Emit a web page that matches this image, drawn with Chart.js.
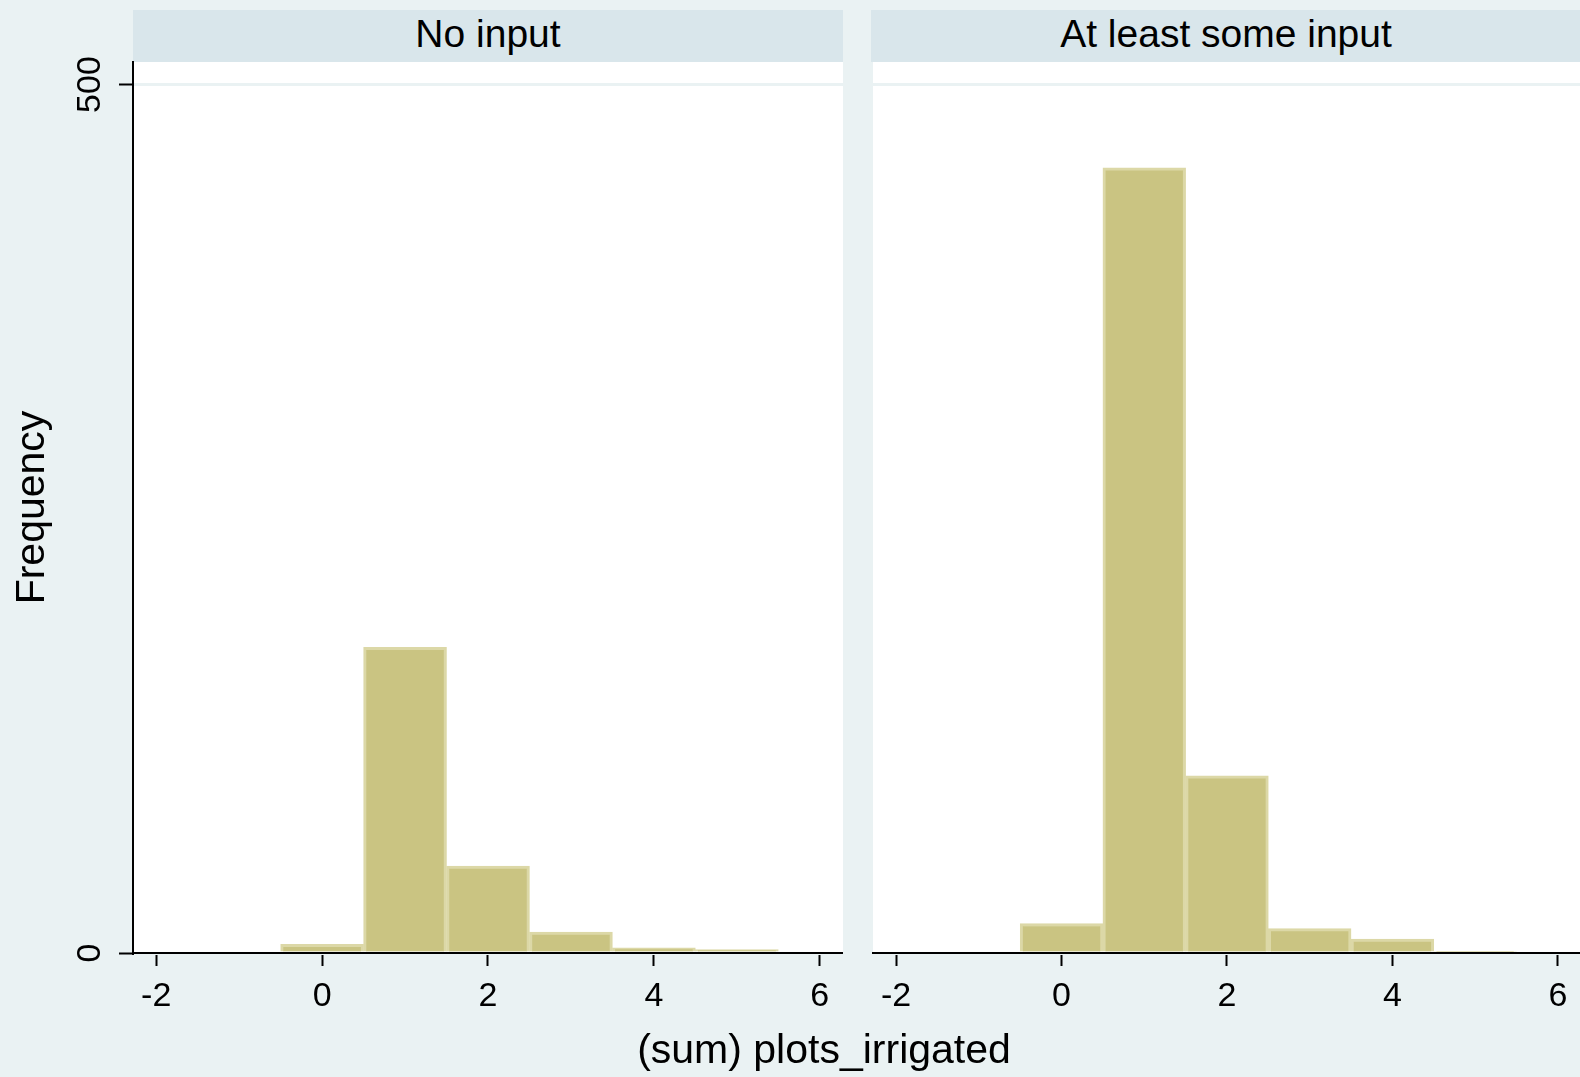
<!DOCTYPE html>
<html lang="en">
<head>
  <meta charset="UTF-8" />
  <title>(sum) plots_irrigated by input</title>
  <style>
    html, body { margin: 0; padding: 0; }
    body {
      width: 1580px; height: 1077px; overflow: hidden; position: relative;
      background: #eaf2f3;
      font-family: 'Liberation Sans', Arial, sans-serif; color: #000;
    }
    canvas { position: absolute; top: 0; }
    #leftChart { left: 0; }
    #rightChart { left: 871px; }
    .strip {
      position: absolute; top: 10px; height: 52px; width: 710px;
      background: #d9e6eb; font-size: 39px; line-height: 48px; text-align: center;
    }
    #xTitle {
      position: absolute; top: 1025px; left: 524px; width: 600px;
      font-size: 41px; line-height: 48px; text-align: center;
    }
  </style>
</head>
<body>
  <div class="strip" id="strip0" style="left:133px"></div>
  <div class="strip" id="strip1" style="left:871px"></div>
  <canvas id="leftChart" width="843" height="1077"></canvas>
  <canvas id="rightChart" width="710" height="1077"></canvas>
  <div id="xTitle">(sum) plots_irrigated</div>

  <script src="https://cdn.jsdelivr.net/npm/chart.js"></script>
  <script>
    // histogram bins (centre of each bin) and frequencies per panel
    const binCenters = [0, 1, 2, 3, 4, 5];
    const noInputFreq = [5, 176, 50, 12, 3, 2];
    const someInputFreq = [17, 452, 102, 14, 8, 1];
    const xTicks = [-2, 0, 2, 4, 6];
    const yTicks = [0, 500];
    const panelTitles = ['No input', 'At least some input'];

    document.getElementById('strip0').textContent = panelTitles[0];
    document.getElementById('strip1').textContent = panelTitles[1];

    Chart.defaults.font.family = "'Liberation Sans', Arial, sans-serif";
    Chart.defaults.color = '#000';

    const plotBg = {
      id: 'plotBg',
      beforeDraw(chart) {
        const { ctx, chartArea: a } = chart;
        ctx.save();
        ctx.fillStyle = '#ffffff';
        ctx.fillRect(a.left, a.top, a.right - a.left, a.bottom - a.top);
        ctx.restore();
      }
    };

    function makePanel(canvasId, freq, withYAxis) {
      const ctx = document.getElementById(canvasId).getContext('2d');
      return new Chart(ctx, {
        type: 'bar',
        data: {
          datasets: [{
            data: binCenters.map((x, i) => ({ x: x, y: freq[i] })),
            backgroundColor: '#cac482',
            borderColor: '#dcd8a7',
            borderWidth: 3,
            barPercentage: 1,
            categoryPercentage: 1
          }]
        },
        plugins: [plotBg],
        options: {
          responsive: false,
          animation: false,
          layout: { padding: { top: 62, right: 0, bottom: 0, left: 0 } },
          plugins: { legend: { display: false }, tooltip: { enabled: false } },
          scales: {
            x: {
              type: 'linear',
              min: -2.28,
              max: 6.28,
              offset: false,
              afterBuildTicks: s => { s.ticks = xTicks.map(v => ({ value: v })); },
              afterFit: s => { s.height = 124; },
              grid: {
                offset: false,
                color: 'rgba(0,0,0,0)',
                tickColor: '#000',
                tickWidth: 2,
                tickLength: 13
              },
              border: { color: '#000', width: 2 },
              ticks: { font: { size: 34 }, padding: 10, maxRotation: 0 }
            },
            y: {
              min: 0,
              max: 513,
              afterBuildTicks: s => { s.ticks = yTicks.map(v => ({ value: v })); },
              afterFit: s => { s.width = withYAxis ? 133 : 0; },
              grid: {
                color: '#eaf2f3',
                lineWidth: 3,
                drawTicks: withYAxis,
                tickColor: '#000',
                tickWidth: 2,
                tickLength: 14
              },
              border: { display: withYAxis, color: '#000', width: 2 },
              ticks: {
                display: withYAxis,
                font: { size: 34 },
                padding: 0,
                minRotation: 90,
                maxRotation: 90,
                crossAlign: 'center'
              },
              title: {
                display: withYAxis,
                text: 'Frequency',
                font: { size: 41 },
                padding: { top: 8, bottom: 0 }
              }
            }
          }
        }
      });
    }

    makePanel('leftChart', noInputFreq, true);
    makePanel('rightChart', someInputFreq, false);
  </script>
</body>
</html>
